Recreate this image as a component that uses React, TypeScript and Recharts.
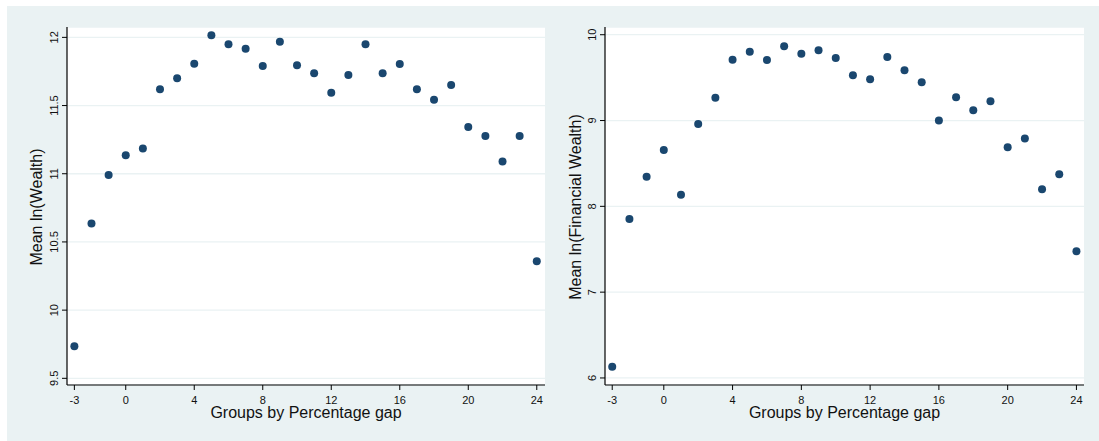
import React from 'react';
import { ScatterChart, Scatter, XAxis, YAxis, CartesianGrid } from 'recharts';

const groups = [-3, -2, -1, 0, 1, 2, 3, 4, 5, 6, 7, 8, 9, 10, 11, 12, 13, 14, 15, 16, 17, 18, 19, 20, 21, 22, 23, 24];

const wealthMeans = [
  9.735, 10.636, 10.99, 11.135, 11.186, 11.62, 11.7, 11.806, 12.015, 11.95, 11.917, 11.79, 11.968, 11.795,
  11.736, 11.594, 11.724, 11.949, 11.736, 11.804, 11.619, 11.543, 11.65, 11.342, 11.276, 11.09, 11.276, 10.358,
];

const finWealthMeans = [
  6.13, 7.852, 8.345, 8.656, 8.135, 8.96, 9.266, 9.709, 9.802, 9.705, 9.865, 9.779, 9.818, 9.728,
  9.527, 9.48, 9.74, 9.585, 9.445, 9.0, 9.27, 9.119, 9.224, 8.688, 8.79, 8.2, 8.373, 7.476,
];

const xTicks = [-3, 0, 4, 8, 12, 16, 20, 24];
const wealthTicks = [9.5, 10, 10.5, 11, 11.5, 12];
const finWealthTicks = [6, 7, 8, 9, 10];

const BG = '#eaf2f3';
const NAVY = '#1a476f';
const FONT = '"Liberation Sans", Arial, sans-serif';

const YTick = (props: any) => {
  const { x, y, payload } = props;
  return (
    <text x={x} y={y} transform={`rotate(-90 ${x} ${y})`} textAnchor="middle" fontSize={11} fontFamily={FONT} fill="#111">
      {payload.value}
    </text>
  );
};

const XTick = (props: any) => {
  const { x, y, payload } = props;
  return (
    <text x={x} y={y} dy="0.71em" textAnchor="middle" fontSize={11} fontFamily={FONT} fill="#111">
      {payload.value}
    </text>
  );
};

const Dot = (props: any) => <circle cx={props.cx} cy={props.cy} r={4} fill={NAVY} />;

interface PanelProps {
  values: number[];
  yTicks: number[];
  yDomain: [number, number];
  xDomain: [number, number];
  yTitle: string;
  left: number;
  width: number;
  yAxisWidth: number;
  rightMargin: number;
  yTitleX: number;
}

function Panel({ values, yTicks, yDomain, xDomain, yTitle, left, width, yAxisWidth, rightMargin, yTitleX }: PanelProps) {
  const data = groups.map((g, i) => ({ g, v: values[i] }));
  const plotCenter = yAxisWidth + (width - rightMargin - yAxisWidth) / 2;
  return (
    <div style={{ position: 'absolute', left, top: 0 }}>
      <ScatterChart width={width} height={441} margin={{ top: 27, right: rightMargin, bottom: 0, left: 0 }}>
        <CartesianGrid horizontal vertical={false} stroke={BG} strokeWidth={1.3} fill="#ffffff" />
        <XAxis
          type="number"
          dataKey="g"
          domain={xDomain}
          ticks={xTicks}
          allowDataOverflow
          height={56}
          tickSize={5}
          tickMargin={6}
          tick={<XTick />}
          tickLine={{ stroke: '#000' }}
          axisLine={{ stroke: '#000', strokeWidth: 1.2 }}
          label={{
            content: () => (
              <text x={plotCenter} y={418} textAnchor="middle" fontSize={16} fontFamily={FONT} fill="#111">
                Groups by Percentage gap
              </text>
            ),
          }}
        />
        <YAxis
          type="number"
          dataKey="v"
          domain={yDomain}
          ticks={yTicks}
          allowDataOverflow
          width={yAxisWidth}
          tickSize={5}
          tickMargin={4}
          tick={<YTick />}
          tickLine={{ stroke: '#000' }}
          axisLine={{ stroke: '#000', strokeWidth: 1.2 }}
          label={{
            content: () => (
              <text
                x={yTitleX}
                y={207}
                transform={`rotate(-90 ${yTitleX} 207)`}
                textAnchor="middle"
                fontSize={16}
                fontFamily={FONT}
                fill="#111"
              >
                {yTitle}
              </text>
            ),
          }}
        />
        <Scatter data={data} shape={<Dot />} isAnimationActive={false} />
      </ScatterChart>
    </div>
  );
}

export default function App() {
  return (
    <div style={{ position: 'absolute', left: 0, top: 0, width: 1099, height: 441, background: '#fff', overflow: 'hidden' }}>
      <div style={{ position: 'absolute', left: 7, top: 6, width: 1092, height: 435, background: BG }} />
      <Panel
        values={wealthMeans}
        yTicks={wealthTicks}
        yDomain={[9.451, 12.076]}
        xDomain={[-3.43, 24.48]}
        yTitle="Mean ln(Wealth)"
        left={0}
        width={550}
        yAxisWidth={67}
        rightMargin={5}
        yTitleX={42}
      />
      <Panel
        values={finWealthMeans}
        yTicks={finWealthTicks}
        yDomain={[5.918, 10.09]}
        xDomain={[-3.42, 24.44]}
        yTitle="Mean ln(Financial Wealth)"
        left={540}
        width={559}
        yAxisWidth={65}
        rightMargin={15}
        yTitleX={41}
      />
    </div>
  );
}
